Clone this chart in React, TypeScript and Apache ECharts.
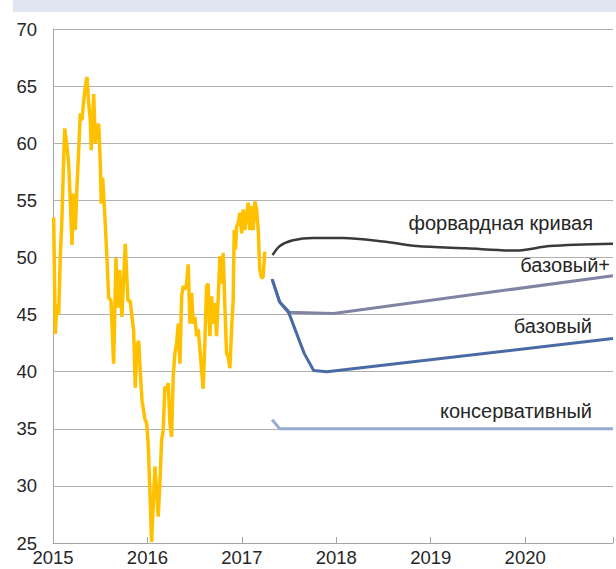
import React, { useEffect, useRef } from "react";
import * as echarts from "echarts";

// Brent price (decimal year, USD/bbl)
const oilYears = [
  2015.007, 2015.024, 2015.042, 2015.06, 2015.077, 2015.095, 2015.106, 2015.124, 2015.148, 2015.166,
  2015.183, 2015.201, 2015.219, 2015.236, 2015.254, 2015.272, 2015.289, 2015.307, 2015.325, 2015.342,
  2015.36, 2015.378, 2015.395, 2015.405, 2015.431, 2015.448, 2015.466, 2015.484, 2015.501, 2015.511,
  2015.526, 2015.553, 2015.571, 2015.589, 2015.614, 2015.642, 2015.667, 2015.688, 2015.706, 2015.73,
  2015.765, 2015.794, 2015.818, 2015.836, 2015.854, 2015.871, 2015.889, 2015.907, 2015.924, 2015.942,
  2015.974, 2015.992, 2016.008, 2016.026, 2016.044, 2016.061, 2016.079, 2016.097, 2016.114, 2016.132,
  2016.15, 2016.167, 2016.185, 2016.203, 2016.22, 2016.238, 2016.256, 2016.273, 2016.291, 2016.309,
  2016.326, 2016.344, 2016.362, 2016.379, 2016.397, 2016.415, 2016.432, 2016.45, 2016.468, 2016.485,
  2016.503, 2016.521, 2016.538, 2016.556, 2016.574, 2016.59, 2016.608, 2016.626, 2016.643, 2016.661,
  2016.679, 2016.696, 2016.714, 2016.732, 2016.749, 2016.767, 2016.785, 2016.802, 2016.82, 2016.838,
  2016.855, 2016.873, 2016.891, 2016.908, 2016.919, 2016.933, 2016.944, 2016.961, 2016.979, 2016.997,
  2017.014, 2017.032, 2017.05, 2017.067, 2017.085, 2017.103, 2017.12, 2017.138, 2017.156, 2017.173,
  2017.19, 2017.208, 2017.225, 2017.243,
];
const oilValues = [
  53.5, 43.3, 45.9, 45.0, 50.0, 53.5, 56.7, 61.3, 59.7, 58.2,
  55.0, 51.1, 55.6, 52.4, 56.2, 59.4, 62.6, 62.0, 63.7, 64.9,
  65.8, 63.5, 62.0, 59.4, 64.3, 60.0, 61.4, 61.7, 58.2, 54.7,
  57.0, 53.0, 50.0, 46.5, 46.2, 40.7, 50.0, 45.6, 48.9, 44.8,
  51.2, 46.2, 46.2, 44.8, 43.6, 38.6, 42.2, 42.7, 40.1, 37.5,
  35.8, 35.5, 33.7, 29.6, 25.1, 28.2, 31.7, 29.6, 27.3, 30.2,
  34.0, 34.9, 38.7, 38.4, 39.0, 35.5, 34.3, 39.6, 41.6, 42.5,
  44.2, 40.7, 46.6, 47.5, 47.2, 47.7, 49.4, 44.2, 46.9, 44.2,
  44.8, 43.1, 43.7, 41.9, 40.1, 38.5, 42.5, 47.5, 47.7, 43.1,
  46.6, 44.2, 46.0, 43.1, 46.3, 50.1, 47.7, 50.4, 45.7, 41.6,
  41.3, 40.3, 43.7, 46.3, 52.4, 50.7, 52.7, 53.0, 53.9, 52.1,
  54.2, 52.4, 53.6, 54.8, 52.4, 54.5, 52.4, 54.9, 54.2, 52.4,
  48.9, 48.2, 48.3, 50.5,
];

// Forward curve
const fwdYears = [2017.325, 2017.402, 2017.543, 2017.755, 2018.072, 2018.495, 2018.849, 2019.378, 2019.907, 2020.259, 2020.93];
const fwdValues = [50.2, 51.0, 51.5, 51.7, 51.7, 51.4, 51.0, 50.8, 50.6, 51.0, 51.2];

// Scenario "базовый+"
const basePlusYears = [2017.32, 2017.4, 2017.49, 2017.97, 2020.93];
const basePlusValues = [48.1, 46.1, 45.2, 45.1, 48.4];

// Scenario "базовый"
const baseYears = [2017.32, 2017.4, 2017.49, 2017.66, 2017.76, 2017.9, 2020.93];
const baseValues = [48.1, 46.1, 45.3, 41.6, 40.1, 40.0, 42.9];

// Scenario "консервативный"
const consYears = [2017.32, 2017.4, 2020.93];
const consValues = [35.8, 35.0, 35.0];

const xMin = 2015;
const xMax = 2020.93;
const yMin = 25;
const yMax = 70;

const seriesLabels = ["форвардная кривая", "базовый+", "базовый", "консервативный"];

const zip = (xs: number[], ys: number[]) => xs.map((x, i) => [x, ys[i]]);

const FONT = "'Liberation Sans', Arial, sans-serif";

export default function App() {
  const ref = useRef<HTMLDivElement>(null);
  useEffect(() => {
    if (!ref.current) return;
    const chart = echarts.init(ref.current, undefined, { renderer: "svg" });
    chart.setOption({
      animation: false,
      backgroundColor: "#ffffff",
      grid: { left: 53, right: 3, top: 29, bottom: 26, containLabel: false },
      xAxis: {
        type: "value",
        min: xMin,
        max: xMax,
        interval: 1,
        axisLine: { show: true, lineStyle: { color: "#a6a6a6", width: 1 } },
        axisTick: { show: true, inside: true, length: 6, lineStyle: { color: "#a6a6a6" } },
        splitLine: { show: false },
        axisLabel: {
          color: "#262626",
          fontFamily: FONT,
          fontSize: 18.5,
          margin: 5,
          formatter: (v: number) => (Math.abs(v - Math.round(v)) < 1e-6 ? String(Math.round(v)) : ""),
        },
      },
      yAxis: {
        type: "value",
        min: yMin,
        max: yMax,
        interval: 5,
        axisLine: { show: true, lineStyle: { color: "#a6a6a6", width: 1 } },
        axisTick: { show: false },
        splitLine: { show: true, lineStyle: { color: "#b0b0b0", width: 1 } },
        axisLabel: { color: "#262626", fontFamily: FONT, fontSize: 18.5, margin: 16 },
      },
      series: [
        {
          type: "line",
          data: zip(oilYears, oilValues),
          showSymbol: false,
          lineStyle: { color: "#ffc000", width: 3.5 },
          z: 5,
        },
        {
          type: "line",
          data: zip(fwdYears, fwdValues),
          showSymbol: false,
          smooth: 0.3,
          lineStyle: { color: "#3a3a3a", width: 2.5 },
        },
        {
          type: "line",
          data: zip(basePlusYears, basePlusValues),
          showSymbol: false,
          lineStyle: { color: "#8083a2", width: 3 },
        },
        {
          type: "line",
          data: zip(baseYears, baseValues),
          showSymbol: false,
          lineStyle: { color: "#4a6aa6", width: 3 },
        },
        {
          type: "line",
          data: zip(consYears, consValues),
          showSymbol: false,
          lineStyle: { color: "#98acd2", width: 3 },
        },
      ],
      graphic: [
        { type: "rect", left: 13, top: 0, shape: { width: 603, height: 12 }, style: { fill: "#dfe6ef" }, silent: true },
        { type: "text", x: 593, y: 223, style: { text: seriesLabels[0], align: "right", verticalAlign: "middle", font: `20px ${FONT}`, fill: "#262626" } },
        { type: "text", x: 610, y: 265, style: { text: seriesLabels[1], align: "right", verticalAlign: "middle", font: `20px ${FONT}`, fill: "#262626" } },
        { type: "text", x: 592, y: 326, style: { text: seriesLabels[2], align: "right", verticalAlign: "middle", font: `20px ${FONT}`, fill: "#262626" } },
        { type: "text", x: 592, y: 411, style: { text: seriesLabels[3], align: "right", verticalAlign: "middle", font: `20px ${FONT}`, fill: "#262626" } },
      ],
    });
    return () => chart.dispose();
  }, []);
  return (
    <div
      ref={ref}
      style={{ position: "absolute", left: 0, top: 0, width: 616, height: 569 }}
    />
  );
}
